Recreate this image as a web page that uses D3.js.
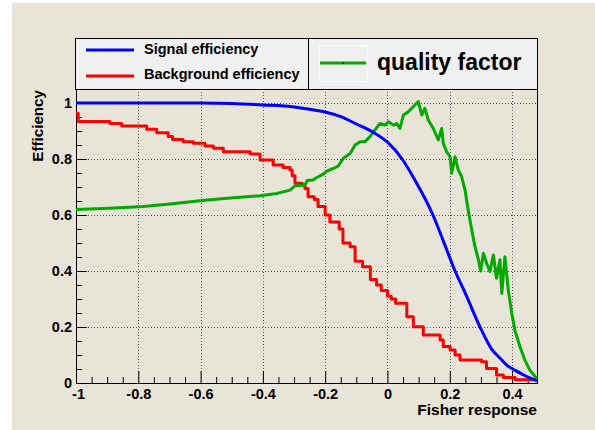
<!DOCTYPE html>
<html>
<head>
  <meta charset="utf-8">
  <script src="https://cdnjs.cloudflare.com/ajax/libs/d3/7.8.5/d3.min.js"></script>
  <style>
    body, html {
      margin: 0;
      padding: 0;
      background: white;
    }
    svg text {
      font-family: 'Liberation Sans', Arial, sans-serif;
      font-weight: bold;
      fill: black;
    }
  </style>
</head>
<body>
  <svg id="mySVG" width="595" height="430"></svg>
  <script>
    // tick labels
    const xTicks = [-1, -0.8, -0.6, -0.4, -0.2, 0, 0.2, 0.4];
    const xTickLabels = ["-1", "-0.8", "-0.6", "-0.4", "-0.2", "0", "0.2", "0.4"];
    const yTicks = [0, 0.2, 0.4, 0.6, 0.8, 1];
    const yTickLabels = ["0", "0.2", "0.4", "0.6", "0.8", "1"];

    // [Fisher response, efficiency]
    const signalEff = [
      [-1.0, 1.0], [-0.6, 1.0], [-0.5, 0.998], [-0.4, 0.993], [-0.3, 0.986],
      [-0.25, 0.978], [-0.2, 0.968], [-0.15, 0.951], [-0.1, 0.925], [-0.05, 0.898],
      [0.0, 0.86], [0.047, 0.80], [0.094, 0.713], [0.12, 0.66], [0.146, 0.60],
      [0.18, 0.505], [0.217, 0.40], [0.25, 0.32], [0.297, 0.20], [0.335, 0.12],
      [0.36, 0.09], [0.383, 0.064], [0.41, 0.045], [0.435, 0.03], [0.457, 0.018],
      [0.48, 0.008]
    ];

    // step function (each value holds until the next x)
    const backgroundEff = [
      [-1.0, 0.963], [-0.993, 0.934], [-0.891, 0.927], [-0.853, 0.918], [-0.773, 0.906],
      [-0.741, 0.894], [-0.704, 0.880], [-0.69, 0.870], [-0.656, 0.862], [-0.623, 0.856],
      [-0.586, 0.846], [-0.559, 0.838], [-0.527, 0.826], [-0.441, 0.818], [-0.409, 0.796],
      [-0.367, 0.779], [-0.335, 0.770], [-0.313, 0.761], [-0.306, 0.74], [-0.297, 0.713],
      [-0.274, 0.707], [-0.265, 0.695], [-0.255, 0.665], [-0.235, 0.655], [-0.223, 0.63],
      [-0.2, 0.60], [-0.185, 0.575], [-0.155, 0.55], [-0.143, 0.50], [-0.12, 0.487],
      [-0.104, 0.435], [-0.08, 0.415], [-0.055, 0.37], [-0.035, 0.35], [-0.02, 0.33],
      [0.0, 0.31], [0.012, 0.30], [0.026, 0.285], [0.062, 0.237], [0.083, 0.201],
      [0.115, 0.171], [0.169, 0.154], [0.179, 0.13], [0.201, 0.118], [0.217, 0.10],
      [0.233, 0.082], [0.302, 0.076], [0.318, 0.052], [0.35, 0.029], [0.372, 0.02],
      [0.41, 0.012], [0.48, 0.012]
    ];

    const qualityFactor = [
      [-1.0, 0.620], [-0.891, 0.624], [-0.785, 0.63], [-0.698, 0.639], [-0.602, 0.651],
      [-0.515, 0.66], [-0.409, 0.669], [-0.355, 0.677], [-0.345, 0.68], [-0.313, 0.689],
      [-0.297, 0.704], [-0.265, 0.707], [-0.258, 0.723], [-0.239, 0.725], [-0.227, 0.734],
      [-0.206, 0.746], [-0.195, 0.757], [-0.174, 0.766], [-0.158, 0.775], [-0.142, 0.802],
      [-0.120, 0.82], [-0.104, 0.85], [-0.088, 0.862], [-0.072, 0.862], [-0.056, 0.88],
      [-0.040, 0.904], [-0.024, 0.927], [-0.008, 0.921], [0.003, 0.933], [0.019, 0.921],
      [0.030, 0.927], [0.040, 0.909], [0.051, 0.957], [0.067, 0.969], [0.088, 0.993],
      [0.099, 1.005], [0.110, 0.957], [0.120, 0.981], [0.131, 0.939], [0.147, 0.909],
      [0.163, 0.868], [0.174, 0.909], [0.179, 0.856], [0.190, 0.826], [0.201, 0.808],
      [0.206, 0.749], [0.217, 0.808], [0.227, 0.761], [0.238, 0.737], [0.249, 0.689],
      [0.259, 0.618], [0.265, 0.58], [0.275, 0.52], [0.281, 0.487], [0.292, 0.44],
      [0.299, 0.40], [0.308, 0.463], [0.318, 0.428], [0.329, 0.398], [0.340, 0.457],
      [0.350, 0.374], [0.361, 0.44], [0.367, 0.32], [0.377, 0.451], [0.388, 0.33],
      [0.399, 0.249], [0.409, 0.189], [0.425, 0.13], [0.441, 0.082], [0.457, 0.046],
      [0.48, 0.015]
    ];

    const svg = d3.select('#mySVG');
    const beige = "#e8e4d8";

    const pLeft = 76, pRight = 537, pTop = 89, pBottom = 383;
    const x = d3.scaleLinear().domain([-1.0, 0.48]).range([pLeft, pRight]);
    const y = d3.scaleLinear().domain([0, 1.05]).range([pBottom, pTop]);

    // canvas
    svg.append("rect").attr("x", 12).attr("y", 3).attr("width", 583).attr("height", 427).attr("fill", beige);

    // grid
    const grid = svg.append("g").attr("stroke", "#555").attr("stroke-width", 1).attr("stroke-dasharray", "1,2");
    grid.selectAll(".gx").data(xTicks.slice(1)).join("line")
      .attr("x1", d => Math.round(x(d)) + 0.5).attr("x2", d => Math.round(x(d)) + 0.5)
      .attr("y1", pTop).attr("y2", pBottom);
    grid.selectAll(".gy").data(yTicks.slice(1)).join("line")
      .attr("y1", d => Math.round(y(d)) + 0.5).attr("y2", d => Math.round(y(d)) + 0.5)
      .attr("x1", pLeft).attr("x2", pRight);

    // axes (ROOT style, ticks inside)
    const xMinor = x.ticks(30).filter(v => !xTicks.some(t => Math.abs(t - v) < 1e-6));
    const yMinor = y.ticks(20).filter(v => !yTicks.some(t => Math.abs(t - v) < 1e-6));

    svg.append("g").attr("transform", `translate(0,${pBottom})`)
      .call(d3.axisBottom(x).tickValues(xMinor).tickSize(-6).tickSizeOuter(0).tickFormat(""))
      .call(g => g.select(".domain").remove());
    const xAxis = svg.append("g").attr("transform", `translate(0,${pBottom})`)
      .call(d3.axisBottom(x).tickValues(xTicks).tickSize(-12).tickSizeOuter(0).tickPadding(6)
        .tickFormat((d, i) => xTickLabels[i]));

    svg.append("g").attr("transform", `translate(${pLeft},0)`)
      .call(d3.axisLeft(y).tickValues(yMinor).tickSize(-6).tickSizeOuter(0).tickFormat(""))
      .call(g => g.select(".domain").remove());
    const yAxis = svg.append("g").attr("transform", `translate(${pLeft},0)`)
      .call(d3.axisLeft(y).tickValues(yTicks).tickSize(-11).tickSizeOuter(0).tickPadding(4)
        .tickFormat((d, i) => yTickLabels[i]));

    svg.selectAll(".tick line").attr("stroke", "black");
    svg.selectAll(".tick text").style("font-size", "14.5px").attr("fill", "black");
    xAxis.selectAll(".tick text").filter((d, i) => i == 0).attr("dx", "2");

    // frame
    svg.append("rect").attr("x", pLeft + 0.5).attr("y", pTop + 0.5)
      .attr("width", pRight - pLeft).attr("height", pBottom - pTop)
      .attr("fill", "none").attr("stroke", "black");

    // curves
    svg.append("clipPath").attr("id", "plotClip")
      .append("rect").attr("x", pLeft - 2).attr("y", pTop).attr("width", pRight - pLeft + 4).attr("height", pBottom - pTop + 1);

    const lineSmooth = d3.line().x(d => x(d[0])).y(d => y(d[1])).curve(d3.curveMonotoneX);
    const lineStep = d3.line().x(d => x(d[0])).y(d => y(d[1])).curve(d3.curveStepAfter);
    const lineJag = d3.line().x(d => x(d[0])).y(d => y(d[1]));

    const curves = svg.append("g").attr("clip-path", "url(#plotClip)").attr("fill", "none")
      .attr("stroke-width", 3).attr("stroke-linejoin", "round");
    curves.append("path").attr("d", lineStep(backgroundEff)).attr("stroke", "#ff0000");
    curves.append("path").attr("d", lineJag(qualityFactor)).attr("stroke", "#00aa00");
    curves.append("path").attr("d", lineSmooth(signalEff)).attr("stroke", "#0000ff");

    // axis titles
    svg.append("text").attr("x", pRight).attr("y", 415).attr("text-anchor", "end")
      .style("font-size", "15.5px").text("Fisher response");
    svg.append("text").attr("transform", `translate(43,${pTop + 1}) rotate(-90)`).attr("text-anchor", "end")
      .style("font-size", "15.2px").text("Efficiency");

    // legend
    const legend = svg.append("g");
    legend.append("rect").attr("x", 75.5).attr("y", 38.5).attr("width", 462).attr("height", 51)
      .attr("fill", "#f0f0f0").attr("stroke", "black");
    legend.append("line").attr("x1", 308.5).attr("x2", 308.5).attr("y1", 38.5).attr("y2", 89.5).attr("stroke", "black");

    const entries = [
      { label: "Signal efficiency", color: "#0000ff", ly: 50, ty: 54 },
      { label: "Background efficiency", color: "#ff0000", ly: 76, ty: 79 },
    ];
    entries.forEach(e => {
      legend.append("line").attr("x1", 86).attr("x2", 134).attr("y1", e.ly).attr("y2", e.ly)
        .attr("stroke", e.color).attr("stroke-width", 3);
      legend.append("text").attr("x", 144).attr("y", e.ty).style("font-size", "14.5px").text(e.label);
    });

    legend.append("rect").attr("x", 319.5).attr("y", 45.5).attr("width", 48).attr("height", 36)
      .attr("fill", "none").attr("stroke", "#fbfbfb");
    legend.append("line").attr("x1", 320).attr("x2", 366).attr("y1", 63).attr("y2", 63)
      .attr("stroke", "#00aa00").attr("stroke-width", 3);
    legend.append("rect").attr("x", 342.5).attr("y", 62.5).attr("width", 1.5).attr("height", 1.5).attr("fill", "black");
    legend.append("text").attr("x", 377).attr("y", 70).style("font-size", "23px").text("quality factor");
  </script>
</body>
</html>
